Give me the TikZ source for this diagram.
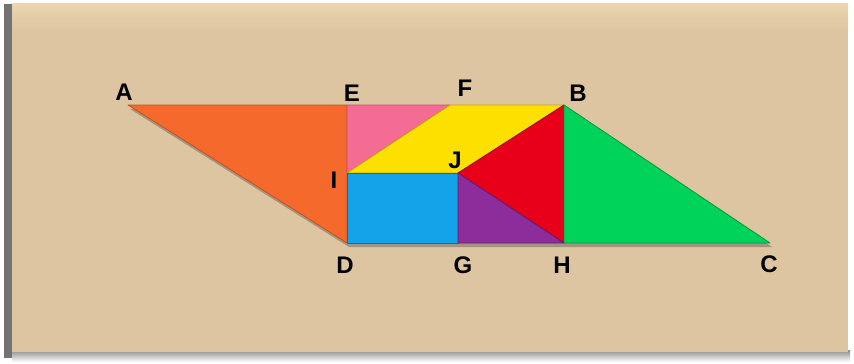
\documentclass[tikz,border=0pt]{standalone}
\usepackage{fontspec}
\setmainfont{Liberation Sans}
\begin{document}
\begin{tikzpicture}[x=1pt,y=-1pt,
  lbl/.style={font=\bfseries\fontsize{24}{24}\selectfont, text=black, inner sep=0pt},
  piece/.style={line width=0.8pt, line join=round}]
\useasboundingbox (0,0) rectangle (854,364);
\fill[white] (0,0) rectangle (854,364);
% card shadow and board
\fill[black!55] (4,4) rectangle (14,358);
\shade[top color=black!45, bottom color=white] (12,350) rectangle (850,362);
\fill[fill={rgb,255:red,221;green,197;blue,162}] (12,3) rectangle (848,352);
\shade[top color={rgb,255:red,236;green,214;blue,170}, bottom color={rgb,255:red,221;green,197;blue,162}] (12,3) rectangle (848,30);
% vertices
\coordinate (A) at (128,105);
\coordinate (E) at (347,105);
\coordinate (F) at (450,105);
\coordinate (B) at (564,105);
\coordinate (I) at (347,173);
\coordinate (J) at (458,173);
\coordinate (D) at (347,243);
\coordinate (G) at (458,243);
\coordinate (H) at (564,243);
\coordinate (C) at (770,243);
% drop shadow
\fill[black!70, opacity=0.4] ([shift={(2,4)}]A) -- ([shift={(2,4)}]B) -- ([shift={(2,4)}]C) -- ([shift={(2,4)}]D) -- cycle;
% pieces
\filldraw[piece, fill={rgb,255:red,245;green,106;blue,44}, draw={rgb,255:red,200;green,80;blue,30}] (A) -- (E) -- (D) -- cycle;
\filldraw[piece, fill={rgb,255:red,244;green,108;blue,148}, draw={rgb,255:red,200;green,80;blue,110}] (E) -- (F) -- (I) -- cycle;
\filldraw[piece, fill={rgb,255:red,252;green,224;blue,0}, draw={rgb,255:red,200;green,170;blue,0}] (I) -- (F) -- (B) -- (J) -- cycle;
\filldraw[piece, fill={rgb,255:red,232;green,0;blue,26}, draw={rgb,255:red,170;green,0;blue,20}] (J) -- (B) -- (H) -- cycle;
\filldraw[piece, fill={rgb,255:red,18;green,163;blue,232}, draw={rgb,255:red,10;green,110;blue,170}] (I) -- (J) -- (G) -- (D) -- cycle;
\filldraw[piece, fill={rgb,255:red,140;green,45;blue,155}, draw={rgb,255:red,100;green,30;blue,110}] (J) -- (H) -- (G) -- cycle;
\filldraw[piece, fill={rgb,255:red,0;green,211;blue,90}, draw={rgb,255:red,0;green,150;blue,60}] (B) -- (C) -- (H) -- cycle;
% labels
\node[lbl] (lA) at (124,92) {A};
\node[lbl] (lE) at (352,93) {E};
\node[lbl] (lF) at (465,88) {F};
\node[lbl] (lB) at (578,93) {B};
\node[lbl] (lI) at (334,180) {I};
\node[lbl] (lJ) at (455,160) {J};
\node[lbl] (lD) at (345,265) {D};
\node[lbl] (lG) at (463,265) {G};
\node[lbl] (lH) at (562,265) {H};
\node[lbl] (lC) at (769,264) {C};
\end{tikzpicture}
\end{document}
